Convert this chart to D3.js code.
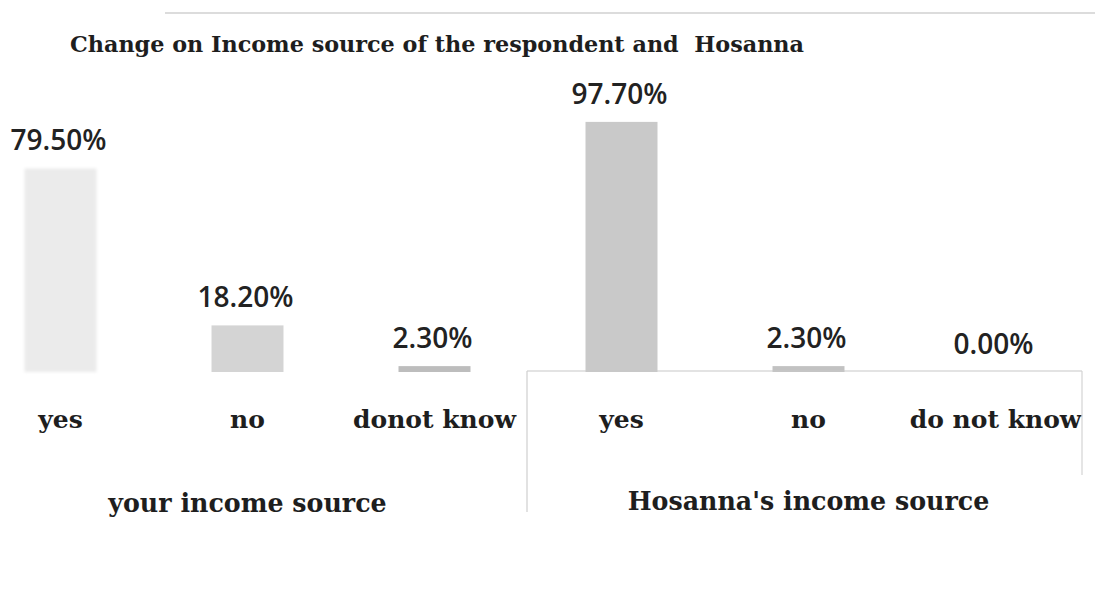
<!DOCTYPE html>
<html>
<head>
<meta charset="utf-8">
<script src="https://cdn.jsdelivr.net/npm/d3@7"></script>
<style>
  html, body { margin: 0; padding: 0; background: #ffffff; }
  svg { display: block; }
  .title { font-family: "DejaVu Serif", serif; font-weight: bold; font-size: 22.3px; fill: #1e1e1e; white-space: pre; }
  .cat { font-family: "DejaVu Serif", serif; font-weight: bold; font-size: 25px; fill: #1e1e1e; }
  .grp { font-family: "DejaVu Serif", serif; font-weight: bold; font-size: 25.3px; fill: #1e1e1e; }
  .val { font-family: "Open Sans", sans-serif; font-weight: 600; font-size: 28px; fill: #222; }
</style>
</head>
<body>
<svg id="chart" width="1105" height="604"></svg>
<script>
// Survey answers: did the income source change?
const groupNames = ["your income source", "Hosanna's income source"];
const yourLabels = ["yes", "no", "donot know"];
const yourValues = [79.5, 18.2, 2.3];
const hosannaLabels = ["yes", "no", "do not know"];
const hosannaValues = [97.7, 2.3, 0.0];
const valueLabels = ["79.50%", "18.20%", "2.30%", "97.70%", "2.30%", "0.00%"];

// Fill shade of each bar, in drawing order
const barFills = ["#ebebeb", "#d4d4d4", "#bdbdbd", "#c9c9c9", "#c2c2c2", "#cccccc"];

const rows = [
  ...yourLabels.map((c, i) => ({ key: "g0-" + i, group: 0, cat: c, value: yourValues[i] })),
  ...hosannaLabels.map((c, i) => ({ key: "g1-" + i, group: 1, cat: c, value: hosannaValues[i] }))
];
rows.forEach((d, i) => { d.label = valueLabels[i]; d.fill = barFills[i]; });

const svg = d3.select("#chart");
const baseY = 372;

const x = d3.scaleBand()
  .domain(rows.map(d => d.key))
  .range([-33, 1089])
  .paddingInner(0.615)
  .paddingOuter(0.3075);

const y = d3.scaleLinear().domain([0, 100]).range([baseY, baseY - 256]);

// soft edge for the faded first bar
const defs = svg.append("defs");
defs.append("filter").attr("id", "soft").attr("x", "-20%").attr("y", "-5%").attr("width", "140%").attr("height", "110%")
  .append("feGaussianBlur").attr("stdDeviation", 1.6);

// faint rule along the top of the page
svg.append("line")
  .attr("x1", 165).attr("x2", 1095).attr("y1", 13).attr("y2", 13)
  .attr("stroke", "#dcdcdc").attr("stroke-width", 2);

svg.append("text")
  .attr("class", "title")
  .attr("x", 70).attr("y", 52)
  .text("Change on Income source of the respondent and  Hosanna");

// bars
svg.append("g").selectAll("rect")
  .data(rows)
  .join("rect")
  .attr("x", d => x(d.key))
  .attr("width", x.bandwidth())
  .attr("y", d => y(d.value))
  .attr("height", d => baseY - y(d.value))
  .attr("fill", d => d.fill)
  .attr("filter", (d, i) => i === 0 ? "url(#soft)" : null);

// value labels above bars
svg.append("g").selectAll("text")
  .data(rows)
  .join("text")
  .attr("class", "val")
  .attr("text-anchor", "middle")
  .attr("x", d => x(d.key) + x.bandwidth() / 2 - 2)
  .attr("y", d => y(d.value) - 18)
  .text(d => d.label);

// category axis: tick labels without a domain line
const axis = d3.axisBottom(x)
  .tickSize(0)
  .tickPadding(0)
  .tickFormat(k => rows.find(r => r.key === k).cat);

const axisG = svg.append("g")
  .attr("transform", `translate(0,${baseY})`)
  .call(axis);
axisG.select(".domain").remove();
axisG.attr("font-size", null).attr("font-family", null);
axisG.selectAll("text")
  .attr("class", "cat")
  .attr("dy", null)
  .attr("y", 56)
  .attr("fill", null);

// group frame around the second category group
const frameLeft = 527, frameRight = 1082;
svg.append("line")
  .attr("x1", frameLeft).attr("x2", frameRight).attr("y1", baseY - 1).attr("y2", baseY - 1)
  .attr("stroke", "#c8c8c8").attr("stroke-width", 1.2);
svg.append("line")
  .attr("x1", frameLeft).attr("x2", frameLeft).attr("y1", baseY - 1).attr("y2", 512)
  .attr("stroke", "#cfcfcf").attr("stroke-width", 1.2);
svg.append("line")
  .attr("x1", frameRight).attr("x2", frameRight).attr("y1", baseY - 1).attr("y2", 475)
  .attr("stroke", "#d4d4d4").attr("stroke-width", 1.2);

// group labels centred under each group
groupNames.forEach((name, gi) => {
  const keys = rows.filter(d => d.group === gi).map(d => d.key);
  const cx = (x(keys[0]) + x(keys[keys.length - 1]) + x.bandwidth()) / 2;
  svg.append("text")
    .attr("class", "grp")
    .attr("text-anchor", "middle")
    .attr("x", cx)
    .attr("y", gi === 0 ? 512 : 510)
    .text(name);
});
</script>
</body>
</html>
